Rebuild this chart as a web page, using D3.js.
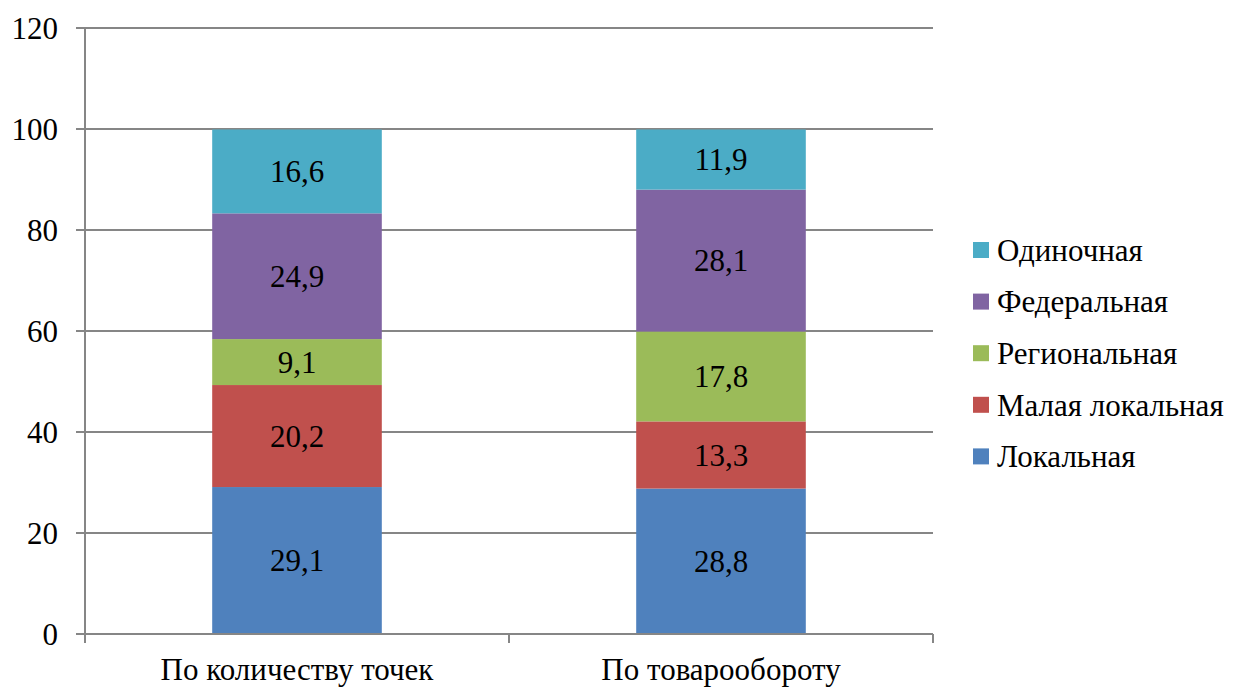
<!DOCTYPE html>
<html><head><meta charset="utf-8">
<script src="https://cdn.jsdelivr.net/npm/d3@7"></script>
<style>body{margin:0;background:#fff} svg text{font-family:"Liberation Serif",Tinos,"Times New Roman",serif !important;}</style>
</head><body>
<svg id="c" width="1235" height="689"></svg>
<script>
const categories = ["По количеству точек", "По товарообороту"];
const seriesNames = ["Локальная", "Малая локальная", "Региональная", "Федеральная", "Одиночная"];
const seriesColors = ["#4F81BD", "#C0504D", "#9BBB59", "#8064A2", "#4BACC6"];
const lokalnaya = [29.1, 28.8];
const malayaLokalnaya = [20.2, 13.3];
const regionalnaya = [9.1, 17.8];
const federalnaya = [24.9, 28.1];
const odinochnaya = [16.6, 11.9];
const yTicks = [0, 20, 40, 60, 80, 100, 120];

const seriesValues = [lokalnaya, malayaLokalnaya, regionalnaya, federalnaya, odinochnaya];
const table = categories.map((c, i) => {
  const row = {cat: c};
  seriesNames.forEach((s, j) => row[s] = seriesValues[j][i]);
  return row;
});
const stacked = d3.stack().keys(seriesNames)(table);

const svg = d3.select("#c");
const L = 85, R = 933, T = 28, B = 634;
const x = d3.scaleBand().domain(categories).range([L, R]).paddingInner(0.6).paddingOuter(0.3);
const xOuter = d3.scaleBand().domain(categories).range([L, R]);
const y = d3.scaleLinear().domain([0, 120]).range([B, T]);
const fs = 31;
const FF = "'Liberation Serif', Tinos, 'Times New Roman', serif";
const gridCol = "#868686";

function tx(sel) {
  return sel.attr("font-family", FF).attr("font-size", fs)
    .style("font-family", FF, "important").style("font-size", fs + "px");
}

// gridlines
svg.append("g").selectAll("line").data(yTicks).join("line")
  .attr("x1", L - 9).attr("x2", R).attr("y1", d => y(d)).attr("y2", d => y(d))
  .attr("stroke", gridCol).attr("stroke-width", 1.2).attr("shape-rendering", "crispEdges");

// y labels
tx(svg.append("g").selectAll("text").data(yTicks).join("text")
  .attr("x", 58).attr("y", d => y(d)).attr("dy", "0.34em")
  .attr("text-anchor", "end")).text(d => d);

// bars
const g = svg.append("g");
stacked.forEach((layer, j) => {
  g.append("g").selectAll("rect").data(layer).join("rect")
    .attr("x", d => x(d.data.cat)).attr("width", x.bandwidth())
    .attr("y", d => y(d[1])).attr("height", d => y(d[0]) - y(d[1]))
    .attr("fill", seriesColors[j]);
  tx(g.append("g").selectAll("text").data(layer).join("text")
    .attr("x", d => x(d.data.cat) + x.bandwidth() / 2)
    .attr("y", d => (y(d[0]) + y(d[1])) / 2).attr("dy", "0.35em")
    .attr("text-anchor", "middle"))
    .text(d => String(d.data[layer.key]).replace(".", ","));
});

// axes lines
svg.append("line").attr("x1", L).attr("x2", L).attr("y1", T).attr("y2", B)
  .attr("stroke", gridCol).attr("stroke-width", 1.2).attr("shape-rendering", "crispEdges");
svg.append("line").attr("x1", L - 9).attr("x2", R).attr("y1", B).attr("y2", B)
  .attr("stroke", gridCol).attr("stroke-width", 1.2).attr("shape-rendering", "crispEdges");
const xTickPos = categories.map(c => xOuter(c)).concat([R]);
svg.append("g").selectAll("line").data(xTickPos).join("line")
  .attr("x1", d => d).attr("x2", d => d).attr("y1", B).attr("y2", B + 9)
  .attr("stroke", gridCol).attr("stroke-width", 1.2).attr("shape-rendering", "crispEdges");

// category labels
tx(svg.append("g").selectAll("text").data(categories).join("text")
  .attr("x", d => xOuter(d) + xOuter.bandwidth() / 2).attr("y", 680)
  .attr("text-anchor", "middle")).text(d => d);

// legend (reverse order)
const legendItems = seriesNames.map((s, j) => ({name: s, color: seriesColors[j]})).reverse();
const lg = svg.append("g");
legendItems.forEach((it, i) => {
  const cy = 250 + i * 51.6;
  lg.append("rect").attr("x", 973).attr("y", cy - 8).attr("width", 16).attr("height", 16).attr("fill", it.color);
  tx(lg.append("text").attr("x", 997).attr("y", cy).attr("dy", "0.35em")).text(it.name);
});
</script>
</body></html>
